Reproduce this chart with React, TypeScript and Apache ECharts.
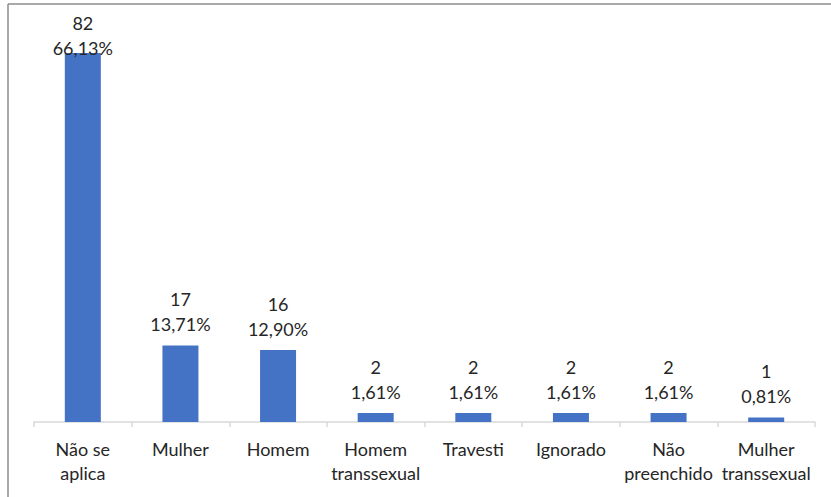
import React, { useEffect, useRef } from "react";
import * as echarts from "echarts";

const categories = [
  "Não se\naplica",
  "Mulher",
  "Homem",
  "Homem\ntranssexual",
  "Travesti",
  "Ignorado",
  "Não\npreenchido",
  "Mulher\ntranssexual",
];
const counts = [82, 17, 16, 2, 2, 2, 2, 1];
const percents = ["66,13%", "13,71%", "12,90%", "1,61%", "1,61%", "1,61%", "1,61%", "0,81%"];

export default function App() {
  const ref = useRef<HTMLDivElement>(null);
  useEffect(() => {
    if (!ref.current) return;
    const chart = echarts.init(ref.current, undefined, { renderer: "svg" });
    chart.setOption({
      animation: false,
      grid: { left: 34, right: 16, top: 17, bottom: 75 },
      xAxis: {
        type: "category",
        data: categories,
        axisLine: { lineStyle: { color: "#d9d9d9", width: 1.5 } },
        axisTick: { show: true, length: 5, lineStyle: { color: "#d9d9d9", width: 1.5 } },
        axisLabel: {
          color: "#262626",
          fontFamily: "Lato",
          fontSize: 18,
          lineHeight: 24,
          margin: 15,
          interval: 0,
        },
      },
      yAxis: { type: "value", min: 0, max: 90, show: false, splitLine: { show: false } },
      graphic: [
        { type: "line", shape: { x1: 8, y1: 4, x2: 831, y2: 4 }, style: { stroke: "#8c8c8c", lineWidth: 1.5 } },
        { type: "line", shape: { x1: 8, y1: 4, x2: 8, y2: 497 }, style: { stroke: "#8c8c8c", lineWidth: 1.5 } },
      ],
      series: [
        {
          type: "bar",
          data: counts.map((v, i) =>
            i === 0 ? { value: v, label: { distance: -7 } } : { value: v }
          ),
          barWidth: 36,
          itemStyle: { color: "#4472C4" },
          label: {
            show: true,
            position: "top",
            distance: 9,
            color: "#262626",
            fontFamily: "Lato",
            fontSize: 18,
            lineHeight: 25,
            formatter: (p: any) => `${p.value}\n${percents[p.dataIndex]}`,
          },
        },
      ],
    });
    return () => chart.dispose();
  }, []);
  return (
    <div
      ref={ref}
      style={{ position: "absolute", left: 0, top: 0, width: 831, height: 497, background: "#fff" }}
    />
  );
}
